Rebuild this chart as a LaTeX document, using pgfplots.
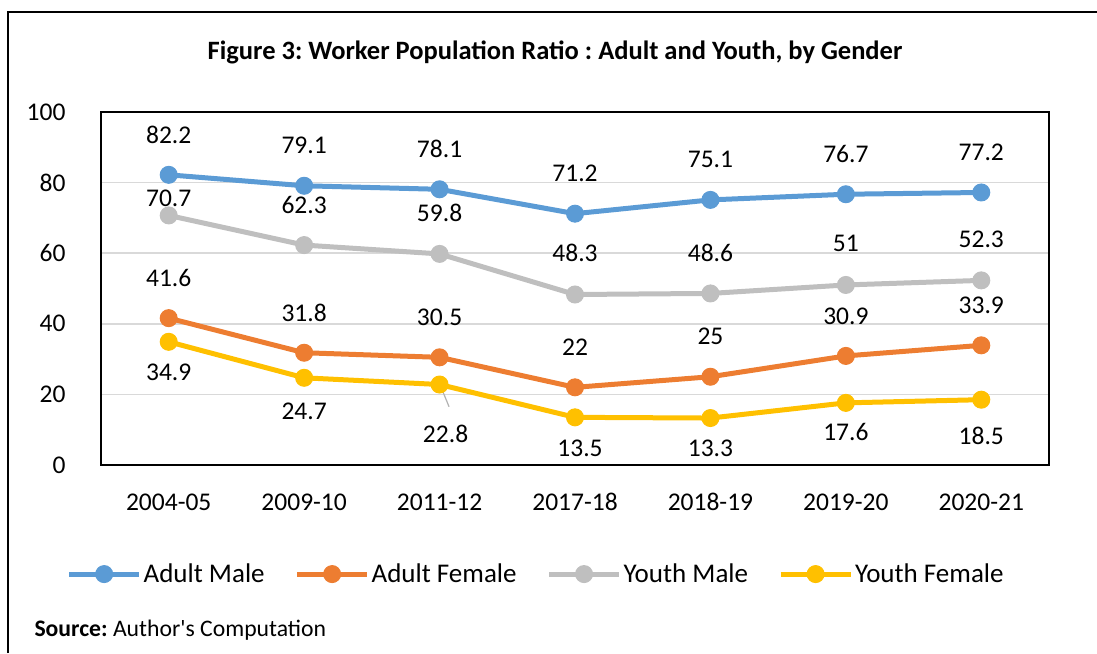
\documentclass[border=0pt]{standalone}
\usepackage{pgfplots}
\pgfplotsset{compat=1.18}
\usepackage{pgfplotstable}
\usepackage{fontspec}
\setmainfont{Carlito}
\frenchspacing
\definecolor{cAM}{HTML}{5B9BD5}
\definecolor{cAF}{HTML}{ED7D31}
\definecolor{cYM}{HTML}{BFBFBF}
\definecolor{cYF}{HTML}{FFC000}
\definecolor{gridc}{HTML}{D9D9D9}

\pgfplotstableread{
x y dy dx
0 82.2 40 0
1 79.1 40 0
2 78.1 40 0
3 71.2 40 0
4 75.1 40 0
5 76.7 40 0
6 77.2 40 0
}\am
\pgfplotstableread{
x y dy dx
0 41.6 40 0
1 31.8 40 0
2 30.5 40 0
3 22 40 0
4 25 40 0
5 30.9 40 0
6 33.9 40 0
}\af
\pgfplotstableread{
x y dy dx
0 70.7 17 0
1 62.3 40 0
2 59.8 41 0
3 48.3 42 0
4 48.6 41 0
5 51 42 0
6 52.3 41 0
}\ym
\pgfplotstableread{
x y dy dx
0 34.9 -31 0
1 24.7 -34 0
2 22.8 -49 6
3 13.5 -31 5
4 13.3 -30 0
5 17.6 -29 0
6 18.5 -36 0
}\yf

\begin{document}
\begin{tikzpicture}[font=\fontsize{25.5}{30}\selectfont]
\path[use as bounding box] (0,0) rectangle (1097pt,653pt);
\draw[line width=2pt] (8pt,0pt) -- (8pt,641pt) -- (1097pt,641pt);
\node[font=\fontsize{26.5}{30}\selectfont\bfseries] at (555pt,601pt) {Figure 3: Worker Population Ratio : Adult and Youth, by Gender};
\node[anchor=west, font=\fontsize{23.7}{26}\selectfont] at (31pt,23pt) {\textbf{Source:} Author\textquotesingle s Computation};
\begin{axis}[
  at={(101pt,188pt)}, anchor=south west, scale only axis,
  width=948pt, height=353pt,
  xmin=-0.5, xmax=6.5, ymin=0, ymax=100,
  xtick={0,...,6},
  xticklabels={2004-05,2009-10,2011-12,2017-18,2018-19,2019-20,2020-21},
  ytick={0,20,...,100},
  major tick length=0pt,
  ymajorgrids, grid style={line width=1.5pt, color=gridc},
  axis line style={line width=2.5pt},
  /pgf/number format/assume math mode=true,
  yticklabel style={xshift=-32pt},
  xticklabel style={yshift=-25pt},
  clip=false,
  every axis plot/.append style={line width=5pt, mark=*, mark size=8.5pt},
  nodes near coords,
  visualization depends on={\thisrow{dy} \as \dy},
  visualization depends on={\thisrow{dx} \as \dx},
  every node near coord/.append style={anchor=center, yshift=\dy pt, xshift=\dx pt, text=black},
  legend columns=4,
  legend style={draw=none, fill=none, at={(0.459,-0.309)}, anchor=center,
    font=\fontsize{27}{30}\selectfont,
    /tikz/every even column/.append style={column sep=28pt}},
  legend cell align=left,
  legend image code/.code={\draw[mark repeat=2,mark phase=2,#1] plot coordinates {(0pt,0pt) (35pt,0pt) (70pt,0pt)};},
]
\addplot[color=cAM, mark options={solid, fill=cAM, line width=1pt}] table[x=x,y=y] {\am};
\addlegendentry{Adult Male}
\addplot[color=cAF, mark options={solid, fill=cAF, line width=1pt}] table[x=x,y=y] {\af};
\addlegendentry{Adult Female}
\addplot[color=cYM, mark options={solid, fill=cYM, line width=1pt}] table[x=x,y=y] {\ym};
\addlegendentry{Youth Male}
\addplot[color=cYF, mark options={solid, fill=cYF, line width=1pt}] table[x=x,y=y] {\yf};
\addlegendentry{Youth Female}
\draw[gray!60, line width=1.2pt] (axis cs:2.02,21.2) -- (axis cs:2.07,16.5);
\end{axis}
\end{tikzpicture}
\end{document}
